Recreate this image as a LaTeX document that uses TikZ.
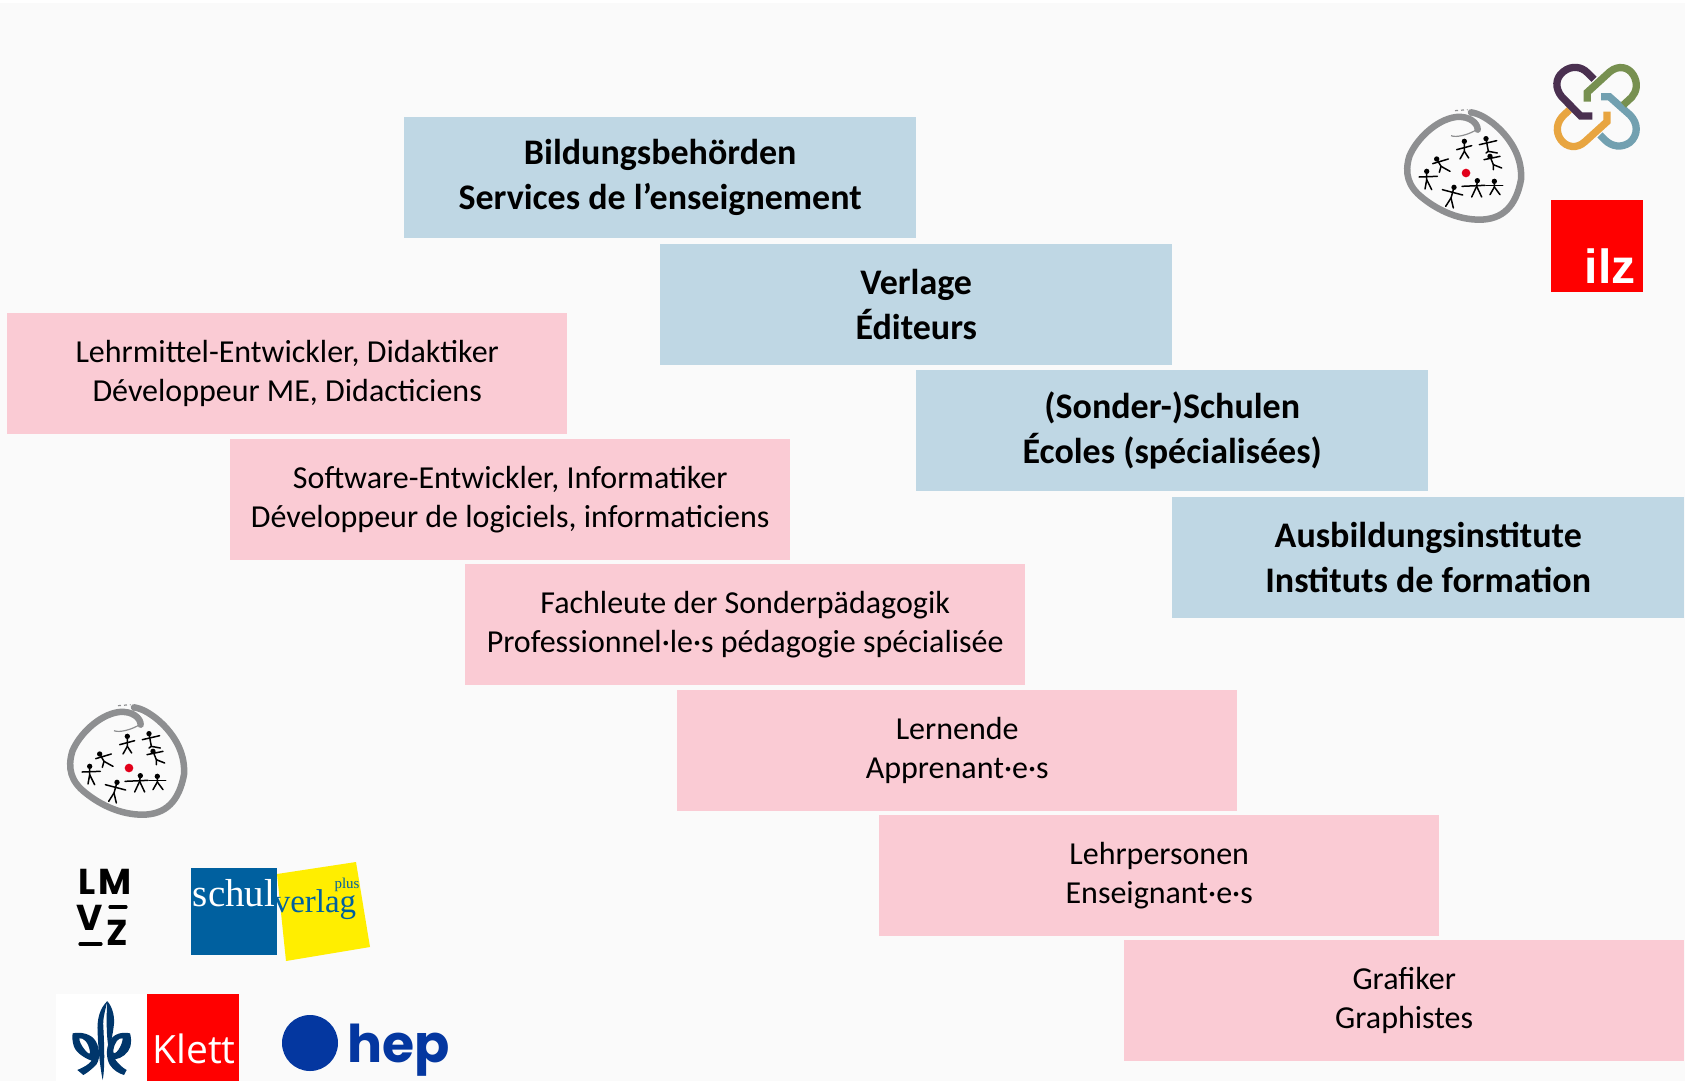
\documentclass[tikz,border=0pt]{standalone}
\usepackage{fontspec}
\setmainfont{Carlito}
\newfontfamily\lmvzfont{Poppins}
\newfontfamily\hepfont{Poppins}
\newfontfamily\ilzfont{Liberation Sans}
\newfontfamily\schulfont{Liberation Serif}
\newfontfamily\klettfont{Open Sans}
\definecolor{pagebg}{HTML}{FAFAFA}
\definecolor{bluebox}{HTML}{BFD7E4}
\definecolor{pinkbox}{HTML}{FACBD4}
\definecolor{ringgrey}{HTML}{8E8F91}
\definecolor{dotred}{HTML}{E2001A}
\definecolor{chainpurple}{HTML}{4A3050}
\definecolor{chaingreen}{HTML}{779050}
\definecolor{chainblue}{HTML}{72A0B0}
\definecolor{chainorange}{HTML}{E8A540}
\definecolor{ilzred}{HTML}{FF0000}
\definecolor{schulblue}{HTML}{00609F}
\definecolor{schulyellow}{HTML}{FFEE00}
\definecolor{flowerblue}{HTML}{00366B}
\definecolor{hepblue}{HTML}{0437A0}
\tikzset{
  x=1pt,y=-1pt,
  roleblue/.style={fill=bluebox,inner sep=0pt,minimum width=512pt,minimum height=121pt,align=center,
     font=\fontsize{36}{45}\selectfont\bfseries},
  rolepink/.style={fill=pinkbox,inner sep=0pt,minimum width=560pt,minimum height=121pt,align=center,
     font=\fontsize{32}{38.7}\selectfont},
  fig/.style={line width=1.5pt,black,line cap=round},
  pics/ringlogo/.style={code={
    \begin{scope}[x=0.3333pt,y=-0.3333pt]
    % grey hand-drawn ring, origin on the red dot
    \draw[ringgrey,line width=6.5pt,line join=round,line cap=round]
      (35,-130) .. controls (35,-150) and (10,-172) .. (-30,-168)
      .. controls (-90,-160) and (-150,-100) .. (-170,-50)
      .. controls (-185,0) and (-175,40) .. (-130,75)
      .. controls (-80,115) and (-20,140) .. (40,140)
      .. controls (110,140) and (150,100) .. (165,20)
      .. controls (170,-50) and (130,-110) .. (80,-150)
      .. controls (60,-165) and (40,-178) .. (15,-182);
    \draw[ringgrey,line width=1.2pt] (-45,-112) .. controls (-30,-105) and (10,-115) .. (35,-132);
    \draw[ringgrey,line width=1.2pt,dashed] (-33,-187) -- (5,-190);
    \fill[dotred] (0,0) circle (13);
    \foreach \hx/\hy/\ax/\ay/\bx/\by/\wx/\wy/\lx/\ly/\rx/\ry in {
      -5/-95/-28/-70/17/-82/-5/-65/-18/-42/8/-45,
      60/-103/40/-85/92/-97/67/-65/60/-60/94/-60,
      72/-50/54/-40/102/-50/82/-25/82/-10/107/-15,
      -88/-42/-100/-28/-53/-42/-75/-20/-80/-2/-48/-5,
      -118/-5/-141/12/-86/10/-118/20/-123/48/-103/50,
      -36/43/-71/50/-10/66/-45/75/-61/100/-38/105,
      34/23/-12/40/57/37/32/40/17/72/47/72,
      85/25/60/37/110/37/85/42/72/65/102/65}{
      \fill[black] (\hx,\hy) circle (8);
      \draw[fig] (\ax,\ay) -- (\bx,\by);
      \draw[fig] (\hx,\hy) -- (\wx,\wy) -- (\lx,\ly);
      \draw[fig] (\wx,\wy) -- (\rx,\ry);
    }
    \end{scope}
  }}
}
\begin{document}
\begin{tikzpicture}
\useasboundingbox (0,0) rectangle (1685,1081);
\fill[white] (0,0) rectangle (1685,3);
\fill[pagebg] (0,3) rectangle (1685,1081);

% blue boxes
\node[roleblue,anchor=north west] (behoerden) at (404,117) {Bildungsbehörden\\Services de l’enseignement};
\node[roleblue,anchor=north west] (verlage) at (660,244) {Verlage\\Éditeurs};
\node[roleblue,anchor=north west] (schulen) at (916,370) {(Sonder-)Schulen\\Écoles (spécialisées)};
\node[roleblue,anchor=north west] (institute) at (1172,497) {Ausbildungsinstitute\\Instituts de formation};

% pink boxes
\node[rolepink,anchor=north west] (lehrmittel) at (7,313) {Lehrmittel-Entwickler, Didaktiker\\Développeur ME, Didacticiens};
\node[rolepink,anchor=north west] (software) at (230,439) {Software-Entwickler, Informatiker\\Développeur de logiciels, informaticiens};
\node[rolepink,anchor=north west] (fachleute) at (465,564) {Fachleute der Sonderpädagogik\\Professionnel·le·s pédagogie spécialisée};
\node[rolepink,anchor=north west] (lernende) at (677,690) {Lernende\\Apprenant·e·s};
\node[rolepink,anchor=north west] (lehrpersonen) at (879,815) {Lehrpersonen\\Enseignant·e·s};
\node[rolepink,anchor=north west] (grafiker) at (1124,940) {Grafiker\\Graphistes};

% ring logos
\pic at (1466,173) {ringlogo};
\pic at (129,768) {ringlogo};

% chain logo
\begin{scope}[shift={(1380,40)},x=0.3333pt,y=-0.3333pt,line width=7.3pt]
  \draw[chainorange] (681,215) -- (681,245) -- (615,305) .. controls (590,328) and (560,322) .. (543,300)
     .. controls (525,275) and (530,245) .. (552,225) -- (568,210);
  \draw[chainblue] (663,170) -- (688,170) -- (750,225) .. controls (775,250) and (775,285) .. (750,307)
     .. controls (725,325) and (695,320) .. (675,300) -- (660,285);
  \draw[chaingreen] (622,185) -- (622,157) -- (690,95) .. controls (715,75) and (745,80) .. (760,105)
     .. controls (775,130) and (770,155) .. (755,172) -- (730,195);
  \draw[chainpurple] (637,228) -- (602,228) -- (545,170) .. controls (525,145) and (525,115) .. (550,95)
     .. controls (575,75) and (605,80) .. (622,98) -- (642,118);
\end{scope}

% ilz logo
\fill[ilzred] (1551,200) rectangle (1643,292);
\node[anchor=base,inner sep=0pt,text=white,font=\ilzfont\fontsize{48}{48}\selectfont\bfseries] (ilz) at (1610,283) {ilz};

% LMVZ logo
\node[inner sep=0pt,font=\lmvzfont\fontsize{36}{36}\selectfont\bfseries] (lmvzL) at (87,882) {L};
\node[inner sep=0pt,font=\lmvzfont\fontsize{36}{36}\selectfont\bfseries] (lmvzM) at (115,882) {M};
\node[inner sep=0pt,font=\lmvzfont\fontsize{36}{36}\selectfont\bfseries] (lmvzV) at (90,918) {V};
\node[inner sep=0pt,font=\lmvzfont\fontsize{36}{36}\selectfont\bfseries] (lmvzZ) at (117,933) {Z};
\draw[line width=3.2pt,line cap=round] (110,907) -- (126,907);
\draw[line width=3.2pt,line cap=round] (80,944) -- (101,944);

% schulverlag logo
\fill[schulyellow] (277,874) -- (356,862) -- (370,947) -- (286,961) -- cycle;
\fill[schulblue] (191,868) rectangle (277,955);
\node[inner sep=0pt,text=white,font=\schulfont\fontsize{39}{39}\selectfont] (schul) at (234,893) {schul};
\node[inner sep=0pt,text=schulblue,font=\schulfont\fontsize{33}{33}\selectfont] (verlag) at (315,905) {verlag};
\node[inner sep=0pt,text=schulblue,font=\schulfont\fontsize{15}{15}\selectfont] (plus) at (347,885) {plus};

% Klett logo
\fill[white] (56,994) rectangle (147,1081);
\fill[ilzred] (147,994) rectangle (239,1081);
\node[anchor=base,inner sep=0pt,text=white,font=\klettfont\fontsize{39}{39}\selectfont] (klett) at (194,1063) {Klett};
\begin{scope}[shift={(50,990)},x=0.3333pt,y=-0.3333pt]
  \fill[flowerblue] (172,33) .. controls (150,55) and (140,85) .. (143,130) .. controls (145,180) and (150,230) .. (158,270)
     .. controls (166,230) and (162,150) .. (160,110) .. controls (158,85) and (165,65) .. (172,33) -- cycle;
  \fill[flowerblue] (172,33) .. controls (190,55) and (195,85) .. (191,110) .. controls (188,135) and (182,160) .. (177,180)
     .. controls (170,150) and (168,90) .. (172,33) -- cycle;
  \fill[flowerblue,even odd rule] (68,130) .. controls (90,125) and (125,130) .. (138,155) .. controls (152,180) and (150,215) .. (135,228)
     .. controls (122,240) and (110,250) .. (100,255) -- (82,240) .. controls (100,232) and (115,225) .. (125,212)
     .. controls (105,205) and (80,190) .. (72,170) .. controls (67,155) and (66,140) .. (68,130) -- cycle
     (88,145) .. controls (100,143) and (115,155) .. (120,185) .. controls (122,195) and (112,190) .. (105,180)
     .. controls (95,168) and (88,155) .. (88,145) -- cycle;
  \fill[flowerblue,even odd rule] (240,130) .. controls (218,125) and (190,130) .. (178,155) .. controls (168,175) and (168,205) .. (180,225)
     .. controls (190,240) and (205,250) .. (222,255) -- (230,240) .. controls (215,232) and (205,220) .. (195,208)
     .. controls (215,205) and (235,190) .. (241,170) .. controls (245,155) and (243,140) .. (240,130) -- cycle
     (218,145) .. controls (205,143) and (195,155) .. (190,180) .. controls (188,195) and (198,190) .. (205,180)
     .. controls (213,168) and (218,155) .. (218,145) -- cycle;
\end{scope}

% hep logo
\fill[hepblue] (310,1043) circle (28);
\node[anchor=base,inner sep=0pt,text=hepblue,font=\hepfont\fontsize{52}{52}\selectfont\bfseries] (hep) at (399,1062) {hep};
\end{tikzpicture}
\end{document}
